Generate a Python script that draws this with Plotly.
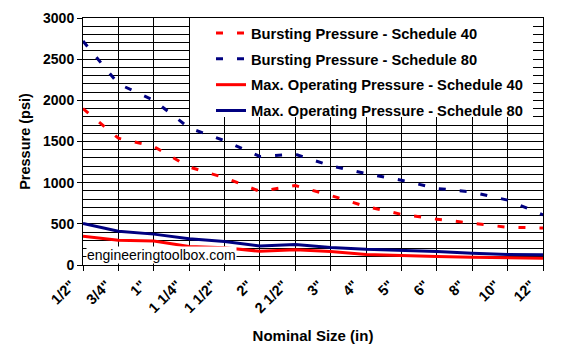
import plotly.graph_objects as go

sizes = ['1/2"', '3/4"', '1"', '1 1/4"', '1 1/2"', '2"', '2 1/2"', '3"', '4"', '5"', '6"', '8"', '10"', '12"']
burst_40 = [1900, 1540, 1440, 1190, 1060, 895, 965, 845, 710, 615, 557, 505, 458, 450]
burst_80 = [2720, 2200, 2000, 1665, 1510, 1318, 1345, 1205, 1110, 1030, 930, 885, 788, 610]
maxop_40 = [350, 300, 290, 225, 208, 167, 185, 165, 128, 112, 104, 93, 85, 82]
maxop_80 = [505, 410, 375, 318, 285, 232, 250, 212, 190, 182, 165, 142, 128, 126]
y_ticks = [0, 500, 1000, 1500, 2000, 2500, 3000]

RED = "#FF0000"
NAVY = "#000080"
FONT = "Arial, 'Liberation Sans', sans-serif"

fig = go.Figure()
series = [
    ("Bursting Pressure - Schedule 40", burst_40, RED, "7px,14px"),
    ("Bursting Pressure - Schedule 80", burst_80, NAVY, "7px,14px"),
    ("Max. Operating Pressure - Schedule 40", maxop_40, RED, "solid"),
    ("Max. Operating Pressure - Schedule 80", maxop_80, NAVY, "solid"),
]
for i, (name, vals, col, dash) in enumerate(series):
    fig.add_trace(go.Scatter(
        x=sizes, y=vals, name=name, mode="lines",
        line=dict(color=col, width=3, dash=dash),
        legendgroup=f"g{i}",
    ))

# page body has an 8px margin; figure is sized to fit inside the window
OFF = 8
W, H = 565 - OFF, 364 - OFF
L, R, T, B = 83 - OFF, 22, 18 - OFF, 99
pw = W - L - R
ph = H - T - B
PL, PB = 83, 364 - B  # plot-area left/bottom in window coords

# white legend box
fig.add_shape(type="rect", xref="paper", yref="paper",
              x0=(190 - PL) / pw, x1=(533 - PL) / pw,
              y0=(PB - 117) / ph, y1=1.0,
              fillcolor="white", line=dict(width=0), layer="above")

fig.add_annotation(text="engineeringtoolbox.com", xref="paper", yref="y",
                   x=(86 - PL) / pw, y=0, xanchor="left", yanchor="bottom",
                   showarrow=False, bgcolor="white", borderpad=0, yshift=1,
                   font=dict(family=FONT, size=14, color="black"))

fig.update_layout(
    width=W, height=H,
    margin=dict(l=L, r=R, t=T, b=B, autoexpand=False),
    paper_bgcolor="white", plot_bgcolor="white",
    font=dict(family=FONT, color="black"),
    showlegend=True,
    legend=dict(
        x=(211 - PL) / pw, y=1.0 + 1 / ph, xanchor="left", yanchor="top",
        bgcolor="rgba(0,0,0,0)", borderwidth=0,
        font=dict(family=FONT, size=14.7, color="black", weight="bold"),
        tracegroupgap=3.7, traceorder="grouped",
    ),
    xaxis=dict(
        type="category", range=[0, len(sizes) - 1],
        showgrid=True, gridcolor="black", gridwidth=1,
        showline=True, linecolor="black", linewidth=1, mirror=True,
        ticks="outside", ticklen=5, tickcolor="black",
        tickangle=-45, ticklabelshift=-12,
        tickfont=dict(family=FONT, size=14.5, color="black", weight="bold"),
        title=dict(text="Nominal Size (in)", standoff=15,
                   font=dict(family=FONT, size=15, color="black", weight="bold")),
        zeroline=False, automargin=False,
    ),
    yaxis=dict(
        range=[0, 3000], tickvals=y_ticks,
        showgrid=True, gridcolor="black", gridwidth=1,
        minor=dict(dtick=100, showgrid=True, gridcolor="black", gridwidth=1),
        showline=True, linecolor="black", linewidth=1, mirror=True,
        ticks="outside", ticklen=5, tickcolor="black",
        tickfont=dict(family=FONT, size=14, color="black", weight="bold"),
        title=dict(text="Pressure (psi)", standoff=8,
                   font=dict(family=FONT, size=14.5, color="black", weight="bold")),
        zeroline=False, automargin=False,
    ),
)

fig.write_html("out.html")
